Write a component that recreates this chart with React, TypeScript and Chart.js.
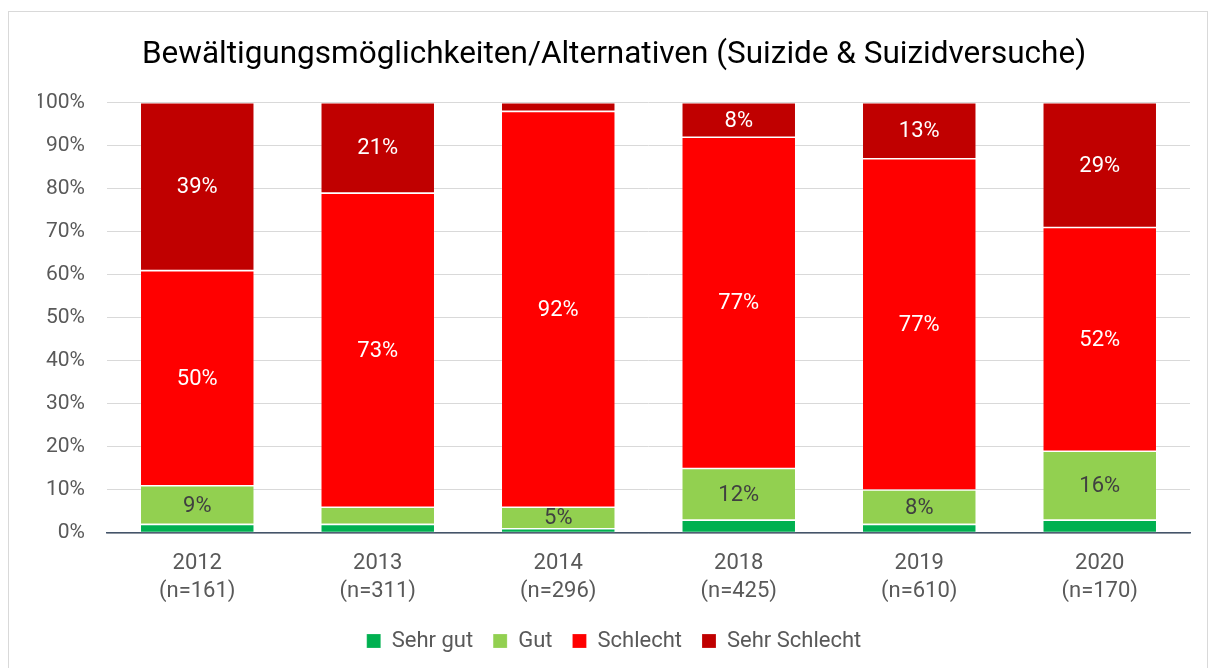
import React, { useEffect, useRef } from "react";
import { Chart, registerables } from "chart.js";

Chart.register(...registerables);

const categories: string[][] = [
  ["2012", "(n=161)"],
  ["2013", "(n=311)"],
  ["2014", "(n=296)"],
  ["2018", "(n=425)"],
  ["2019", "(n=610)"],
  ["2020", "(n=170)"],
];

const sehrGut = [2, 2, 1, 3, 2, 3];
const gut = [9, 4, 5, 12, 8, 16];
const schlecht = [50, 73, 92, 77, 77, 52];
const sehrSchlecht = [39, 21, 2, 8, 13, 29];

const yTicks = [0, 10, 20, 30, 40, 50, 60, 70, 80, 90, 100];

const FONT = "Roboto, 'Noto Sans', sans-serif";
const TEXT = "#595959";

const labelPlugin = {
  id: "segLabels",
  afterDatasetsDraw(chart: any) {
    const ctx = chart.ctx;
    ctx.save();
    ctx.font = `22px ${FONT}`;
    ctx.textAlign = "center";
    ctx.textBaseline = "middle";
    chart.data.datasets.forEach((ds: any, i: number) => {
      const meta = chart.getDatasetMeta(i);
      meta.data.forEach((el: any, j: number) => {
        const v = ds.data[j];
        if (v < 5) return;
        const cy = (el.y + el.base) / 2;
        ctx.fillStyle = ds.labelColor;
        ctx.fillText(v + "%", el.x, cy + 1);
      });
    });
    ctx.restore();
  },
};

export default function App() {
  const ref = useRef<HTMLCanvasElement | null>(null);

  useEffect(() => {
    if (!ref.current) return;
    const mk = (label: string, data: number[], color: string, labelColor: string) => ({
      label,
      data,
      backgroundColor: color,
      borderColor: "rgba(255,255,255,0.25)",
      borderWidth: 0.8,
      borderSkipped: false,
      labelColor,
      barPercentage: 0.632,
      categoryPercentage: 1,
    });
    const chart = new Chart(ref.current, {
      type: "bar",
      data: {
        labels: categories,
        datasets: [
          mk("Sehr gut", sehrGut, "#00b050", "#404040"),
          mk("Gut", gut, "#92d050", "#404040"),
          mk("Schlecht", schlecht, "#ff0000", "#ffffff"),
          mk("Sehr Schlecht", sehrSchlecht, "#c00000", "#ffffff"),
        ] as any,
      },
      options: {
        animation: false,
        responsive: true,
        maintainAspectRatio: false,
        layout: { padding: { left: 29, right: 17, top: 0, bottom: 6 } },
        plugins: {
          title: {
            display: true,
            text: "Bewältigungsmöglichkeiten/Alternativen (Suizide & Suizidversuche)",
            color: "#000000",
            font: { family: FONT, size: 31.5, weight: "normal" as any },
            padding: { top: 24, bottom: 29 },
          },
          legend: {
            position: "bottom",
            labels: {
              color: TEXT,
              font: { family: FONT, size: 22 },
              boxWidth: 14,
              boxHeight: 14,
              padding: 20,
            },
          },
          tooltip: { enabled: false },
        },
        scales: {
          x: {
            stacked: true,
            grid: { display: false, drawTicks: false },
            border: { display: true, color: "#44546a", width: 1.5 },
            ticks: {
              color: TEXT,
              font: { family: FONT, size: 22, lineHeight: 1.3 },
              padding: 16,
            },
            afterFit(scale: any) {
              scale.height = 77;
            },
          },
          y: {
            stacked: true,
            min: 0,
            max: 100,
            afterFit(scale: any) {
              scale.width = 69;
            },
            afterBuildTicks(scale: any) {
              scale.ticks = yTicks.map((v) => ({ value: v }));
            },
            grid: { color: "#d9d9d9", lineWidth: 1, drawTicks: false },
            border: { display: false },
            ticks: {
              color: TEXT,
              font: { family: FONT, size: 21 },
              padding: 22,
              callback: (v: any) => v + "%",
            },
          },
        },
      },
      plugins: [labelPlugin],
    });
    return () => chart.destroy();
  }, []);

  return (
    <div
      style={{
        position: "fixed",
        left: 8,
        top: 11,
        width: 1198,
        height: 670,
        border: "1px solid #d9d9d9",
        background: "#fff",
      }}
    >
      <div style={{ position: "relative", width: 1198, height: 656 }}>
        <canvas ref={ref} />
      </div>
    </div>
  );
}
